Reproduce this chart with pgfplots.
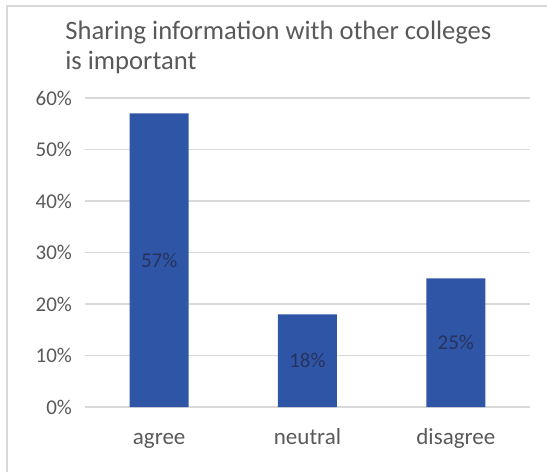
\documentclass[border=0pt]{standalone}
\usepackage{pgfplots}
\pgfplotsset{compat=1.18}
\usepackage{fontspec}
\setmainfont{Carlito}
\definecolor{barblue}{RGB}{47,86,166}
\definecolor{txtgrey}{RGB}{89,89,89}
\definecolor{gridgrey}{RGB}{217,217,217}
\definecolor{lbl}{RGB}{40,50,95}
\begin{document}
\begin{tikzpicture}
\path[use as bounding box] (-42.5pt,-32.5pt) rectangle (231pt,203.5pt);
\draw[gridgrey, line width=0.7pt] (-39pt,-32.5pt) -- (-39pt,200.5pt) -- (231pt,200.5pt);
\node[anchor=base west, align=left, text=txtgrey, font=\fontsize{13.3}{15}\selectfont, inner sep=0pt] at (-10pt,183.5pt) {Sharing information with other colleges};
\node[anchor=base west, align=left, text=txtgrey, font=\fontsize{13.3}{15}\selectfont, inner sep=0pt] at (-10pt,168.5pt) {is important};
\begin{axis}[
  at={(0,0)}, anchor=south west,
  scale only axis, width=222.5pt, height=154.5pt,
  ymin=0, ymax=60, xmin=-0.5, xmax=2.5,
  axis line style={draw=none},
  ymajorgrids, grid style={gridgrey, line width=0.6pt},
  ytick={0,10,20,30,40,50,60},
  xtick={0,1,2}, xticklabels={agree,neutral,disagree},
  major tick length=0pt,
  /pgf/number format/assume math mode=true,
  yticklabel={\pgfmathprintnumber{\tick}\%},
  yticklabel style={font=\fontsize{10.5}{12}\selectfont, text=txtgrey, xshift=-3pt},
  xticklabel style={font=\fontsize{11.5}{13}\selectfont, text=txtgrey, anchor=base, yshift=-18.5pt},
]
\addplot[ybar, bar width=29.5pt, fill=barblue, draw=none,
  visualization depends on={y/2 \as \myhalf},
  nodes near coords={\pgfmathprintnumber{\pgfplotspointmeta}\%},
  point meta=y,
  nodes near coords style={anchor=center, font=\fontsize{10.5}{12}\selectfont, text=lbl, shift={(axis direction cs:0,-\myhalf)}},
] coordinates {(0,57) (1,18) (2,25)};
\end{axis}
\end{tikzpicture}
\end{document}
